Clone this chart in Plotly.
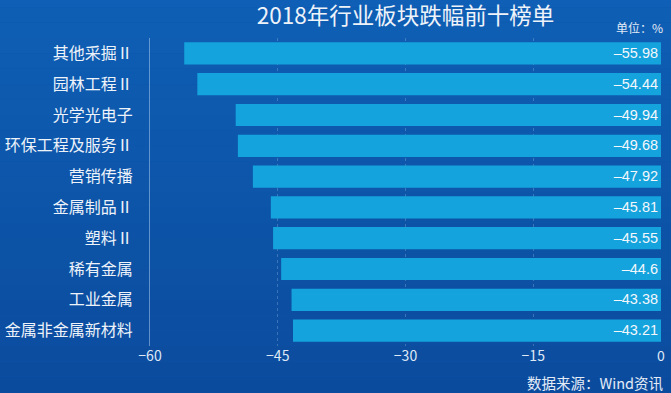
import plotly.graph_objects as go

categories = ["其他采掘Ⅱ", "园林工程Ⅱ", "光学光电子", "环保工程及服务Ⅱ", "营销传播",
              "金属制品Ⅱ", "塑料Ⅱ", "稀有金属", "工业金属", "金属非金属新材料"]
values = [-55.98, -54.44, -49.94, -49.68, -47.92, -45.81, -45.55, -44.6, -43.38, -43.21]
value_labels = ["-55.98", "-54.44", "-49.94", "-49.68", "-47.92", "-45.81", "-45.55", "-44.6", "-43.38", "-43.21"]
tick_vals = [-60, -45, -30, -15, 0]
tick_text = ["−60", "−45", "−30", "−15", "0"]

fig = go.Figure()
fig.add_trace(go.Bar(
    y=categories, x=values, orientation="h",
    marker=dict(color="#14a3dc", line=dict(width=0)),
    text=[t.replace("-", "–") for t in value_labels],
    textposition="inside", insidetextanchor="start",
    textfont=dict(family="Liberation Sans, Arial", size=17, color="#f4f7fc"),
    textangle=0, cliponaxis=False, hoverinfo="skip",
))

# background gradient strips
n = 30
top = (14, 96, 182)
bot = (11, 73, 155)
shapes = []
for i in range(n):
    f = i / (n - 1)
    c = tuple(round(top[k] + (bot[k] - top[k]) * f) for k in range(3))
    shapes.append(dict(type="rect", xref="paper", yref="paper",
                       x0=-0.5, x1=1.5, y0=1.2 - (i + 1) * 1.5 / n, y1=1.2 - i * 1.5 / n,
                       fillcolor="rgb(%d,%d,%d)" % c, line=dict(width=0), layer="below"))

fig.update_layout(
    width=671, height=393,
    margin=dict(l=150, r=10, t=38, b=47),
    paper_bgcolor="#0d55aa", plot_bgcolor="rgba(0,0,0,0)",
    shapes=shapes,
    bargap=0.28,
    showlegend=False,
    title=dict(text="2018年行业板块跌幅前十榜单", x=0.5, xref="paper", y=1 - 16 / 393, yref="container",
               yanchor="middle", font=dict(family="Noto Sans CJK SC", size=22.5, color="#eef3fa")),
    xaxis=dict(range=[-60, 0], tickvals=tick_vals, ticktext=tick_text, automargin=False,
               showgrid=True, gridcolor="rgba(180,210,240,0.28)", griddash="dot", gridwidth=1,
               zeroline=False, showline=False, ticks="",
               tickfont=dict(family="Noto Sans CJK SC", size=14, color="#dfe8f5")),
    yaxis=dict(autorange="reversed", showgrid=False, ticks="", ticklabelstandoff=13, automargin=False,
               showline=True, linecolor="rgba(170,200,235,0.55)", linewidth=1,
               tickfont=dict(family="Noto Sans CJK SC", size=16, color="#eef3fa")),
    annotations=[
        dict(text="单位：%", xref="paper", yref="paper", x=1.008, y=1.0, xanchor="right", yanchor="bottom",
             showarrow=False, font=dict(family="Noto Sans CJK SC", size=12, color="#e3ebf7")),
        dict(text="数据来源：Wind资讯", xref="paper", yref="paper", x=1.01, y=-0.117, xanchor="right",
             yanchor="middle", showarrow=False,
             font=dict(family="Noto Sans CJK SC", size=14.5, color="#e3ebf7")),
    ],
)

fig.write_html("out.html", config={"displayModeBar": False},
               post_script="document.body.style.margin='0';document.body.style.overflow='hidden';")
